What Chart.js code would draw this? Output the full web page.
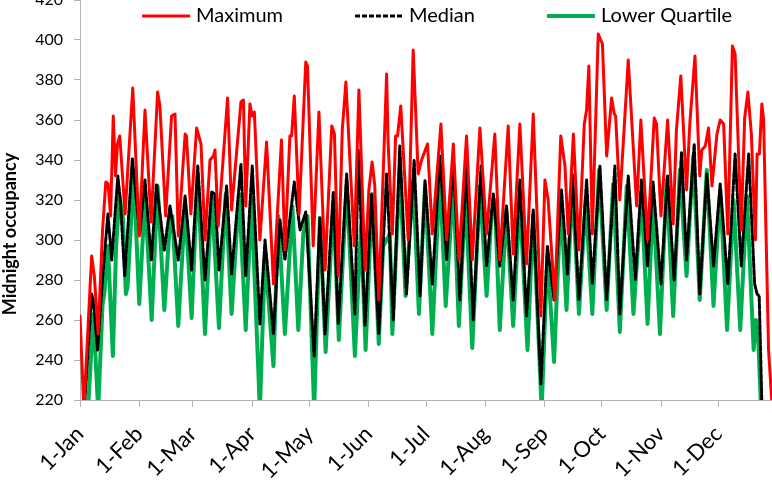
<!DOCTYPE html>
<html>
<head>
<meta charset="utf-8">
<script src="https://cdn.jsdelivr.net/npm/chart.js@4.4.0/dist/chart.umd.min.js"></script>
<style>
  html, body { margin: 0; padding: 0; background: #fff; overflow: hidden; }
  #wrap { position: relative; width: 772px; height: 480px; }
</style>
</head>
<body>
<div id="wrap"><canvas id="chart"></canvas></div>
<script>
// month ticks (day of year, 1-Jan = 0)
const monthDays = [0, 31, 59, 90, 120, 151, 181, 212, 243, 273, 304, 334];
const monthLabels = ['1-Jan', '1-Feb', '1-Mar', '1-Apr', '1-May', '1-Jun',
                     '1-Jul', '1-Aug', '1-Sep', '1-Oct', '1-Nov', '1-Dec'];

// Maximum - day of year / occupancy (read at turning points)
const maxDay = [0, 2, 6.1, 7.5, 9.5, 11.8, 13.5, 14.7, 16.0, 17.4, 18.6, 19.6, 20.8, 23.6, 27.6, 31.0,
  34.0, 37.2, 40.6, 41.8, 44.8, 47.9, 49.7, 51.4, 55.0, 55.7, 58.0, 61.0, 63.3, 65.4, 68.0, 69.8,
  70.6, 72.3, 77.2, 79.3, 84.2, 85.5, 86.7, 88.9, 90.1, 91.2, 94.1, 97.6, 101.2, 105.4,
  107.2, 109.8, 110.7, 112.1, 114.6, 118.1, 119.0, 122.0, 125.0, 128.2, 131.7, 133.1, 135.1, 137.2, 139.1, 143.5,
  145.9, 149.1, 151.1, 152.8, 154.2, 156.3, 160.4, 161.2, 163.4, 165.1, 166.1, 167.8, 171.7, 174.3, 176.9, 178.7,
  181.8, 184.3, 188.8, 191.8, 195.3, 198.2, 202.2, 205.2, 209.2, 212.7, 217.0,
  219.6, 224.0, 226.6, 230.1, 233.6, 237.1, 241.1, 243.2, 244.9, 248.4, 251.5,
  253.7, 255.4, 258.1, 261.0, 263.8, 265.0, 266.2, 268.0, 271.1, 273.3, 275.5, 278.1, 279.5, 280.2, 282.4, 286.8,
  291.2, 293.4, 296.9, 300.4, 301.6, 303.9, 307.4, 310.3, 312.0, 314.3, 317.3, 319.0, 321.7, 324.2,
  325.3, 327.1, 328.8, 330.6, 333.2, 334.9, 336.7, 338.9, 341.3, 342.7, 345.9, 347.7, 349.4, 351.2, 353.3, 354.2,
  355.4, 356.7, 357.6, 360.2, 362];
const maxVal = [262, 215, 292, 282, 253, 305, 329, 328, 312, 362, 332, 348, 352, 313, 376, 302,
  365, 309, 374, 367, 312, 362, 363, 302, 353, 352, 313, 356, 348, 300, 340, 342,
  345, 307, 371, 315, 369, 370, 317, 368, 362, 364, 300, 349, 278, 350,
  295, 352, 352, 372, 313, 389, 387, 297, 364, 285, 357, 353, 282, 355, 379, 297,
  375, 285, 325, 339, 327, 270, 383, 348, 303, 352, 352, 367, 300, 395, 333, 340,
  348, 303, 358, 300, 348, 290, 352, 290, 356, 303, 353,
  290, 357, 293, 358, 288, 363, 262, 330, 320, 270, 352,
  337, 303, 353, 295, 358, 365, 387, 303, 403, 398, 342, 371, 363, 362, 320, 390,
  317, 360, 300, 361, 358, 312, 360, 308, 355, 382, 325, 358, 392, 332,
  345, 347, 356, 327, 353, 360, 358, 303, 397, 393, 305, 361, 374, 353, 300, 343,
  343, 368, 360, 245, 218];

// Median
const medDay = [2, 6.1, 6.9, 9.2, 11.9, 14.6, 16.6, 19.8, 21.1, 23.4, 27.4, 31.2,
  34.0, 37.3, 40.0, 44.1, 47.1, 51.4, 55.0, 58.4, 61.6, 65.4, 68.9,
  70.6, 72.7, 76.7, 79.3, 84.2, 86.7, 90.1, 94.1, 96.8, 101.2, 104.6,
  107.2, 112.1, 115.1, 118.1, 122.5, 125.5, 128.2, 132.5, 135.1, 139.5, 143.8,
  145.6, 149.1, 152.5, 156.3, 160.4, 163.9, 167.3, 170.8, 174.8, 177.9,
  180.5, 184.3, 188.3, 191.8, 195.3, 198.7, 202.2, 205.7, 209.8, 212.7, 216.2,
  219.6, 223.1, 226.6, 230.1, 233.6, 237.1, 241.1, 244.5, 248.0, 251.9,
  255.0, 257.6, 261.0, 265.0, 268.0, 272.0, 275.5, 279.8, 282.4, 286.8, 290.5,
  293.7, 296.9, 299.8, 303.9, 307.4, 310.8, 314.7, 317.3, 321.3, 324.2,
  327.9, 331.4, 334.9, 338.9, 342.7, 345.9, 349.8, 352.9, 354.2, 355.3, 356.7, 360];
const medVal = [212, 273, 270, 245, 282, 313, 290, 332, 320, 282, 341, 303,
  330, 290, 328, 295, 317, 290, 322, 285, 337, 280, 324,
  323, 285, 327, 283, 338, 282, 337, 258, 300, 253, 310,
  290, 329, 305, 314, 242, 311, 253, 324, 258, 333, 263,
  345, 257, 323, 253, 333, 260, 347, 273, 340, 272,
  330, 278, 342, 290, 340, 270, 337, 260, 337, 287, 323,
  287, 317, 270, 330, 262, 315, 228, 297, 270, 325,
  283, 333, 270, 330, 278, 337, 270, 337, 263, 332, 280,
  330, 287, 329, 278, 332, 280, 344, 290, 348, 273,
  333, 287, 328, 278, 343, 287, 343, 278, 273, 272, 218, 200];

// Lower quartile
const lqDay = [4, 7.0, 9.5, 11.8, 12.7, 14.6, 17.2, 18.9, 20.6, 22.4, 24.0, 24.9, 28.1, 31.0,
  34.0, 37.5, 40.6, 44.1, 47.1, 48.3, 51.4, 55.0, 58.4, 61.5, 65.4, 68.9,
  72.7, 76.2, 79.3, 83.2, 86.7, 89.7, 94.1, 96.8, 101.2, 103.7,
  107.2, 111.1, 114.2, 116.8, 119.0, 122.5, 125.5, 128.5, 132.5, 135.4, 139.5,
  143.8, 147.0, 149.4, 152.8, 156.3, 158.6, 160.4, 162.1, 163.4, 167.3, 170.3, 174.3, 177.3,
  180.5, 184.3, 188.3, 191.3, 195.3, 198.2, 201.7, 205.2, 209.2, 212.7, 215.3,
  217.0, 219.6, 223.1, 226.6, 230.1, 234.1, 237.1, 241.5, 244.5, 248.0, 251.5,
  254.5, 257.6, 261.0, 264.5, 268.0, 271.5, 275.5, 278.9, 282.4, 286.0, 289.5,
  293.7, 296.9, 299.8, 303.4, 306.9, 310.3, 313.8, 317.3, 320.8, 324.2,
  327.9, 331.4, 334.9, 338.5, 341.9, 345.4, 348.9, 352.4, 353.6, 354.7, 356.3, 360];
const lqVal = [212, 263, 215, 268, 273, 297, 242, 297, 322, 312, 273, 277, 333, 268,
  322, 260, 327, 265, 310, 312, 257, 317, 261, 333, 253, 323,
  256, 323, 263, 323, 255, 320, 215, 293, 237, 312,
  253, 317, 255, 303, 312, 215, 311, 244, 318, 250, 328,
  242, 307, 245, 323, 248, 297, 300, 303, 253, 335, 272, 330, 263,
  327, 253, 332, 267, 328, 257, 323, 246, 327, 272, 313,
  320, 255, 315, 257, 320, 245, 313, 215, 293, 239, 320,
  265, 328, 263, 320, 263, 335, 265, 328, 254, 327, 263,
  322, 258, 320, 253, 330, 262, 335, 282, 342, 270,
  335, 267, 325, 255, 320, 255, 322, 245, 260, 253, 215, 200];

const axisGrey = '#b4b4b4';
const yTitle = 'Midnight occupancy';
const toPoints = (days, vals) => days.map((d, i) => ({ x: d, y: vals[i] }));

// legend drawn inside the plot across the top, plus the y title (sits below centre in the original)
const extras = {
  id: 'extras',
  afterDraw(chart) {
    const ctx = chart.ctx;
    const y = 16;
    let x = 142;
    ctx.save();
    ctx.font = '20px Lato';
    ctx.textBaseline = 'middle';
    chart.data.datasets.forEach(ds => {
      ctx.strokeStyle = ds.borderColor;
      ctx.lineWidth = ds.borderWidth;
      ctx.setLineDash(ds.borderDash || []);
      ctx.beginPath();
      ctx.moveTo(x, y);
      ctx.lineTo(x + 48, y);
      ctx.stroke();
      ctx.setLineDash([]);
      ctx.fillStyle = '#000';
      ctx.fillText(ds.label, x + 54, y);
      x += 54 + ctx.measureText(ds.label).width + 72;
    });

    ctx.translate(10, 234);
    ctx.rotate(-Math.PI / 2);
    ctx.font = 'bold 18px Lato';
    ctx.textAlign = 'center';
    ctx.fillText(yTitle, 0, 0);
    ctx.restore();
  }
};

new Chart(document.getElementById('chart'), {
  type: 'line',
  data: {
    datasets: [
      {
        label: 'Maximum',
        data: toPoints(maxDay, maxVal),
        borderColor: '#ff0000',
        borderWidth: 3
      },
      {
        label: 'Median',
        data: toPoints(medDay, medVal),
        borderColor: '#000000',
        borderWidth: 3,
        borderDash: [5, 2]
      },
      {
        label: 'Lower Quartile',
        data: toPoints(lqDay, lqVal),
        borderColor: '#00b050',
        borderWidth: 4
      }
    ]
  },
  options: {
    responsive: true,
    maintainAspectRatio: false,
    animation: false,
    elements: {
      point: { radius: 0 },
      line: { tension: 0, borderJoinStyle: 'round', borderCapStyle: 'round', fill: false }
    },
    layout: { padding: 0 },
    plugins: {
      legend: { display: false },
      tooltip: { enabled: false }
    },
    scales: {
      x: {
        type: 'linear',
        min: 0,
        max: 362,
        afterBuildTicks: scale => {
          scale.ticks = monthDays.map(v => ({ value: v }));
        },
        afterFit: scale => {
          scale.height = 80;
          scale.paddingLeft = 0;
          scale.paddingRight = 0;
        },
        grid: { drawOnChartArea: false, drawTicks: true, tickLength: 7, color: axisGrey },
        border: { color: axisGrey, width: 1 },
        ticks: {
          autoSkip: false,
          minRotation: 45,
          maxRotation: 45,
          padding: 14,
          color: '#000',
          font: { family: 'Lato', size: 22 },
          callback: v => monthLabels[monthDays.indexOf(v)]
        }
      },
      y: {
        min: 220,
        max: 420,
        afterFit: scale => {
          scale.width = 80;
          scale.paddingTop = 0;
          scale.paddingBottom = 0;
        },
        grid: { drawOnChartArea: false, drawTicks: true, tickLength: 6, color: axisGrey },
        border: { color: axisGrey, width: 1 },
        ticks: {
          stepSize: 20,
          padding: 11,
          color: '#000',
          font: { family: 'Lato', size: 16 }
        }
      }
    }
  },
  plugins: [extras]
});
</script>
</body>
</html>
